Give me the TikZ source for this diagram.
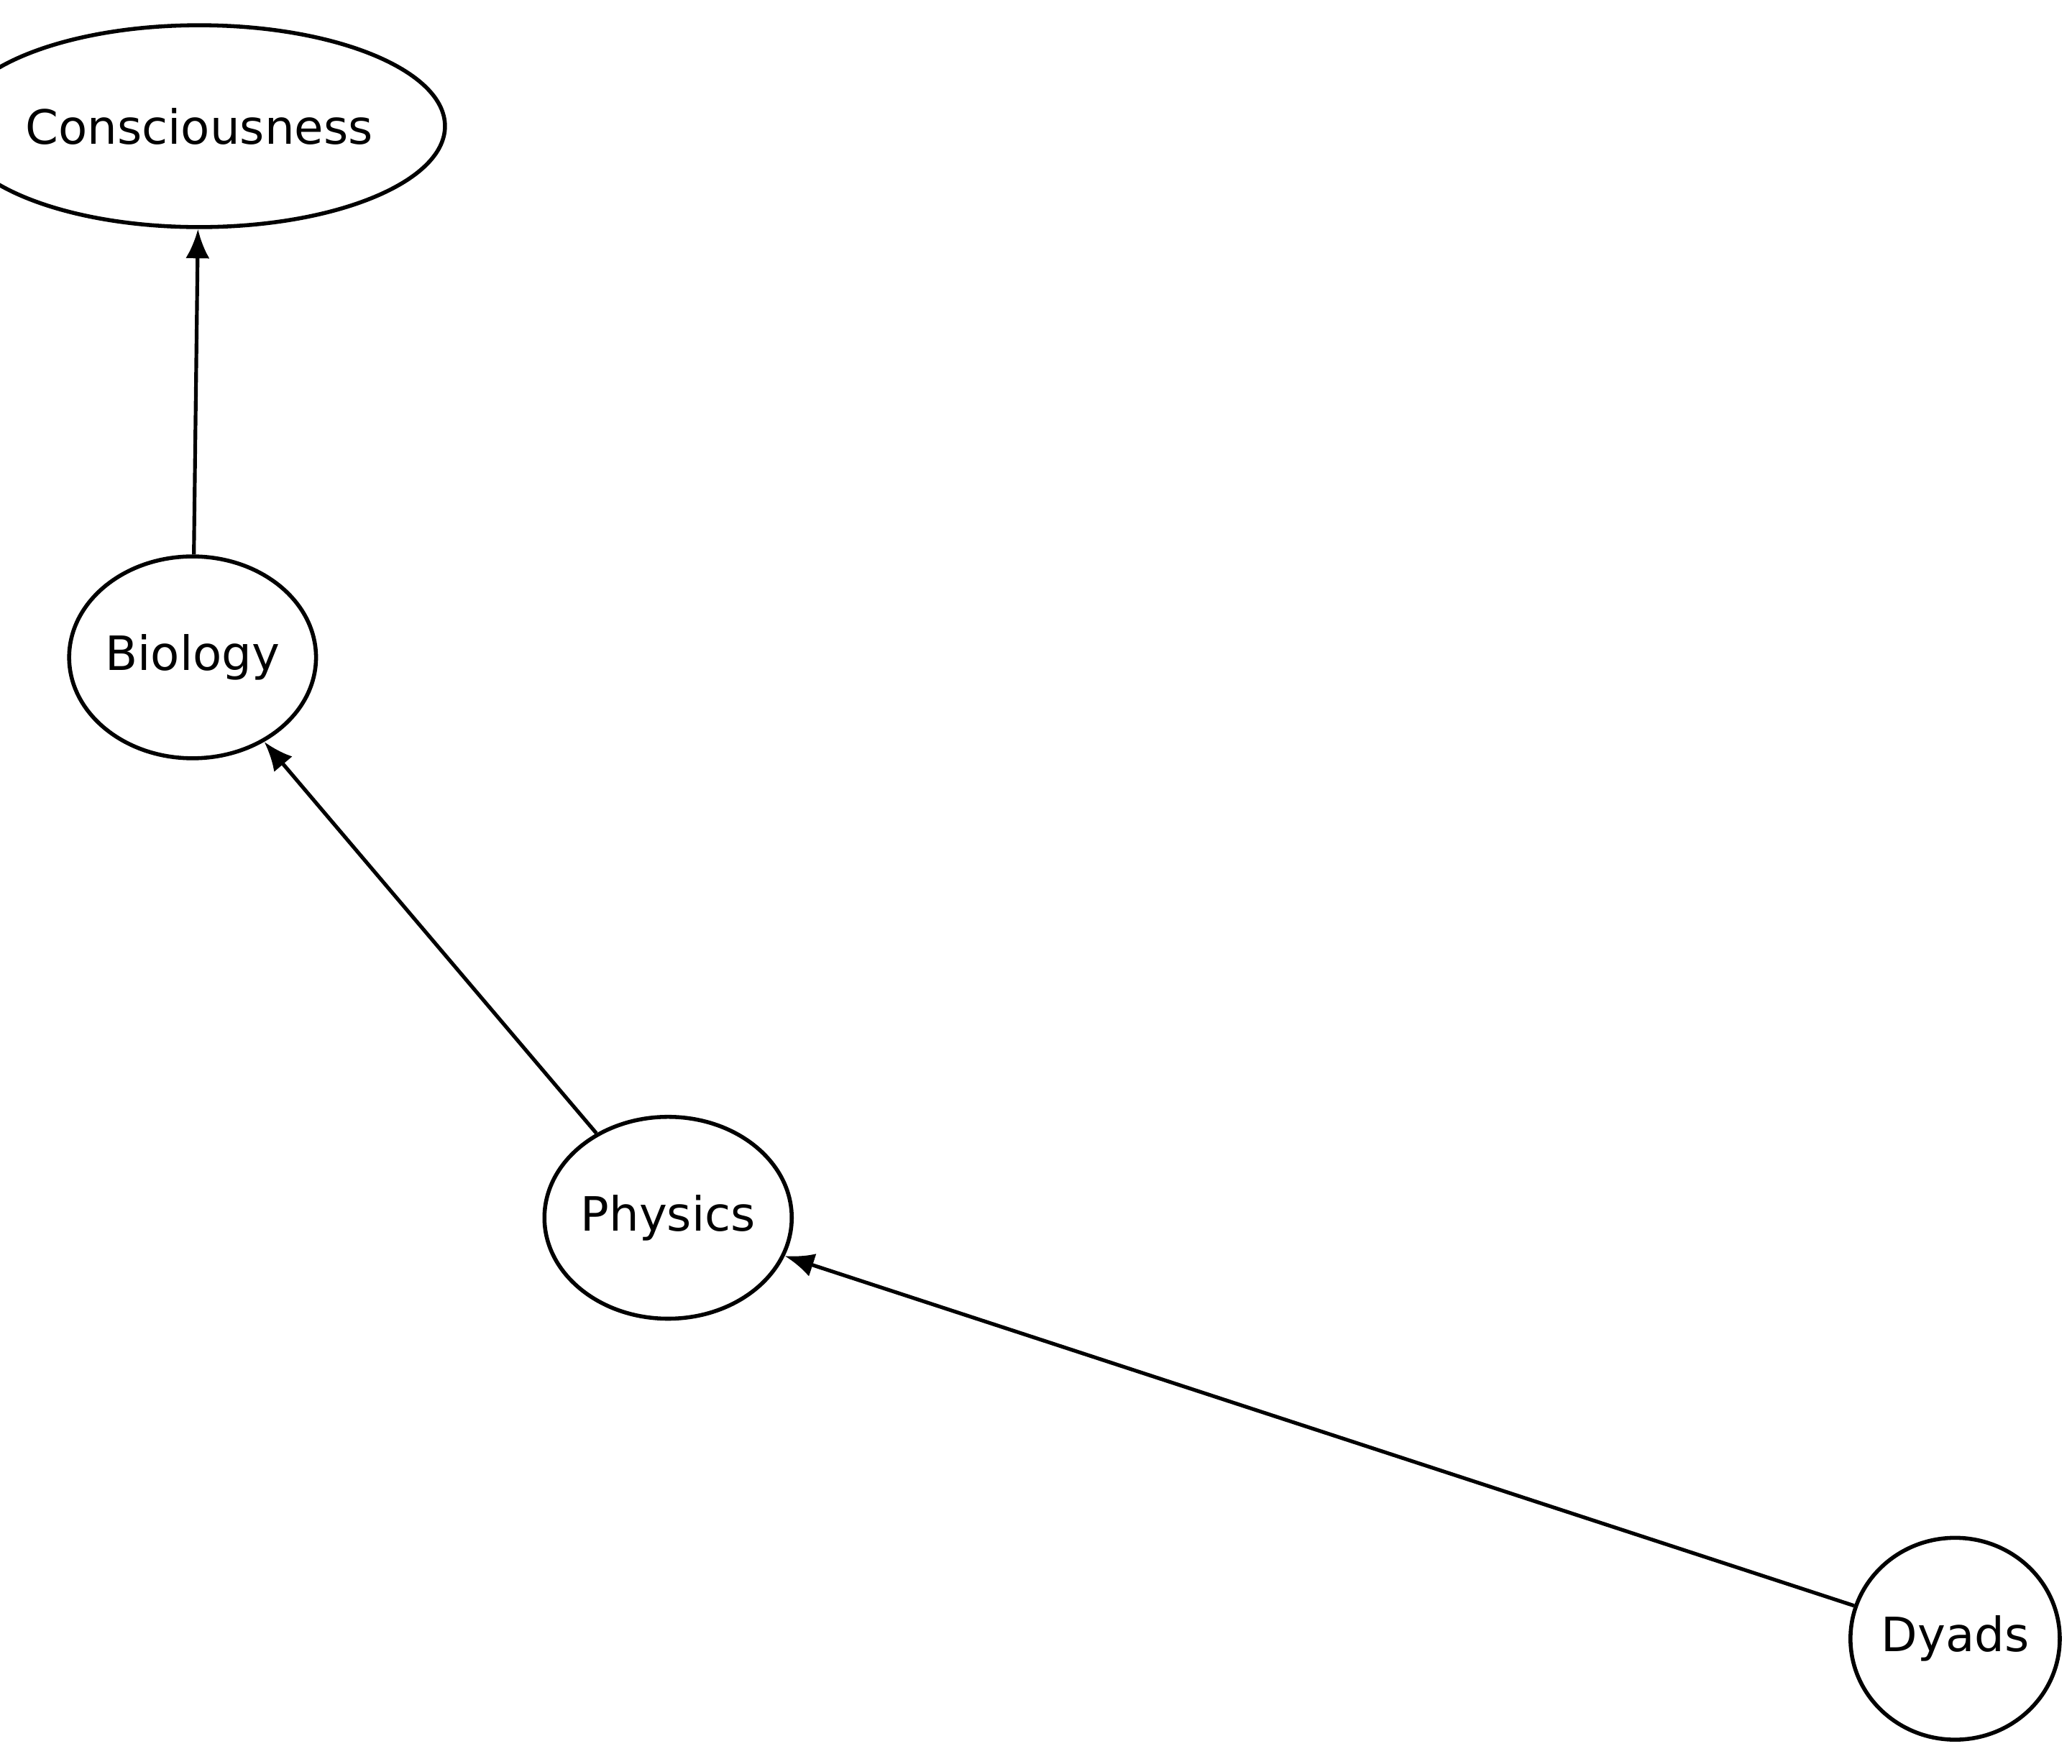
\documentclass[tikz,border=0pt]{standalone}
\usepackage{fontspec}
\setmainfont{DejaVu Sans}
\usetikzlibrary{shapes.geometric,arrows.meta}
\begin{document}
\begin{tikzpicture}[x=0.5pt,y=-0.5pt,
  nd/.style={ellipse,draw,line width=1.5pt,minimum width=71pt,minimum height=76pt,inner sep=0pt,font=\fontsize{17.8}{20}\selectfont},
  ed/.style={line width=1.4pt,-{Latex[length=11pt,width=9pt]}}]
\useasboundingbox (0,0) rectangle (1560,1328);
\node[nd] (c) at (150,95) {Consciousness};
\node[nd] (b) at (145,495) {Biology};
\node[nd] (p) at (503,917) {Physics};
\node[nd] (d) at (1472,1234) {Dyads};
\draw[ed] (b) -- (c);
\draw[ed] (p) -- (b);
\draw[ed] (d) -- (p);
\end{tikzpicture}
\end{document}
